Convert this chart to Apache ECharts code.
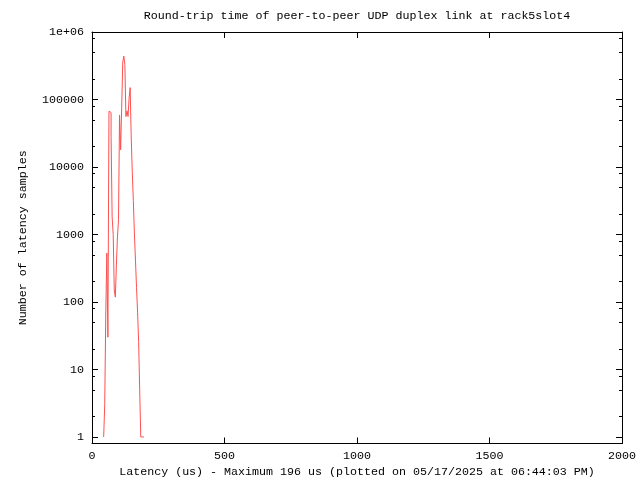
<!DOCTYPE html>
<html>
<head>
<meta charset="utf-8">
<script src="https://cdn.jsdelivr.net/npm/echarts@6/dist/echarts.min.js"></script>
<style>
html,body{margin:0;padding:0;background:#fff;}
#c{width:640px;height:480px;}
</style>
</head>
<body>
<div id="c"></div>
<script>
// Histogram: start of each 4 us latency bin and number of samples in it
const latencyUs = [44, 48, 52, 56, 60, 64, 68, 72, 76, 80, 84, 88, 92, 96, 100,
  104, 108, 112, 116, 120, 124, 128, 132, 136, 140, 144, 148,
  152, 156, 160, 164, 168, 172, 176, 180, 184, 188, 192, 196];
const samples = [1, 3, 66, 530, 30, 67000, 64000, 28000, 1830, 1000, 150, 118, 350, 920, 1650,
  59000, 18000, 75000, 356000, 440000, 330000, 56000, 68000, 56000, 105000, 150000, 27000,
  8500, 3200, 1050, 420, 165, 70, 26, 5, 1, 1, 1, 1];

const xTicks = [0, 500, 1000, 1500, 2000];
const yMajorTicks = [1, 10, 100, 1000, 10000, 100000, 1000000];
const yMinorTicks = [2, 5, 8, 20, 50, 80, 200, 500, 800, 2000, 5000, 8000,
  20000, 50000, 80000, 200000, 500000, 800000];

const titleText = 'Round-trip time of peer-to-peer UDP duplex link at rack5slot4';
const xName = 'Latency (us) - Maximum 196 us (plotted on 05/17/2025 at 06:44:03 PM)';
const yName = 'Number of latency samples';

const FONT = 'Liberation Mono';
const FS = 11.67;

function yLabel(v) {
  if (v >= 1000000) return '1e+06';
  return String(Math.round(v));
}

function yAx(pos, ticks, len, showLine, showLabel) {
  return {
    type: 'log', logBase: 10, min: 0.8, max: 1000000, position: pos,
    axisLine: {show: showLine, lineStyle: {color: '#000', width: 1}},
    axisTick: {show: true, inside: true, length: len, customValues: ticks, lineStyle: {color: '#000', width: 1}},
    axisLabel: showLabel ? {show: true, customValues: yMajorTicks, formatter: yLabel, color: '#000',
      fontFamily: FONT, fontSize: FS, margin: 8} : {show: false},
    splitLine: {show: false}, minorTick: {show: false}, minorSplitLine: {show: false},
    name: showLabel ? yName : '', nameLocation: 'middle', nameRotate: 90, nameGap: 63,
    nameTextStyle: {color: '#000', fontFamily: FONT, fontSize: FS}
  };
}

const chart = echarts.init(document.getElementById('c'), null, {renderer: 'canvas'});
chart.setOption({
  animation: false,
  backgroundColor: '#fff',
  title: {
    text: titleText, left: 357, top: 10, textAlign: 'center', padding: 0,
    textStyle: {color: '#000', fontFamily: FONT, fontSize: FS, fontWeight: 'normal'}
  },
  grid: {left: 92, top: 32, width: 530, height: 411.5, outerBoundsMode: 'none', containLabel: false},
  xAxis: [{
    type: 'value', min: 0, max: 2000, interval: 500, position: 'bottom',
    axisLine: {show: true, lineStyle: {color: '#000', width: 1}},
    axisTick: {show: true, inside: true, length: 6, customValues: xTicks, lineStyle: {color: '#000'}},
    axisLabel: {show: true, customValues: xTicks, formatter: v => String(v), color: '#000',
      fontFamily: FONT, fontSize: FS, margin: 6},
    splitLine: {show: false},
    name: xName, nameLocation: 'middle', nameGap: 21,
    nameTextStyle: {color: '#000', fontFamily: FONT, fontSize: FS}
  }, {
    type: 'value', min: 0, max: 2000, interval: 500, position: 'top',
    axisLine: {show: true, lineStyle: {color: '#000', width: 1}},
    axisTick: {show: true, inside: true, length: 6, customValues: xTicks, lineStyle: {color: '#000'}},
    axisLabel: {show: false}, splitLine: {show: false}
  }],
  yAxis: [
    yAx('left', yMajorTicks, 6, true, true),
    yAx('left', yMinorTicks, 3, false, false),
    yAx('right', yMajorTicks, 6, true, false),
    yAx('right', yMinorTicks, 3, false, false)
  ],
  series: [{
    type: 'line', xAxisIndex: 0, yAxisIndex: 0,
    step: 'end', showSymbol: false, symbol: 'none', clip: true,
    lineStyle: {color: '#ff5050', width: 1},
    data: latencyUs.map((x, i) => [x, samples[i]])
  }]
});
</script>
</body>
</html>
